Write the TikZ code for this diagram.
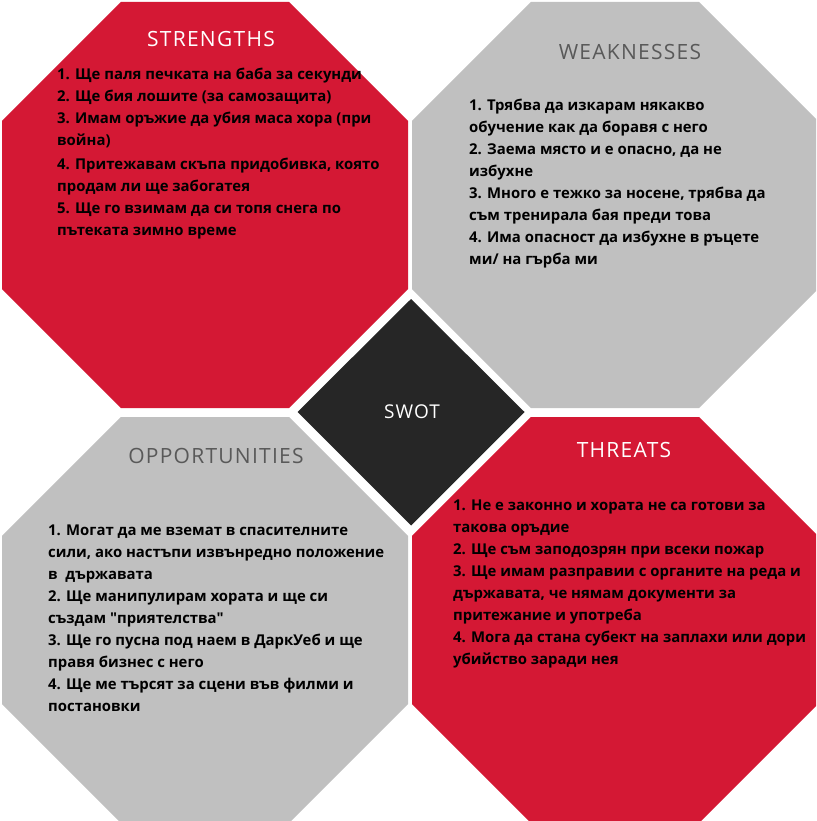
\documentclass[tikz,border=0pt]{standalone}
\usepackage{fontspec}
\setmainfont{Open Sans}
\newfontfamily\headfont[LetterSpace=6]{Open Sans}
\definecolor{swotred}{RGB}{212,24,52}
\definecolor{swotgray}{RGB}{192,192,192}
\definecolor{swotdark}{RGB}{38,38,38}
\definecolor{headgray}{RGB}{89,89,89}

% list of lines, first baseline on the node's base
\newcommand\rows[1]{\vtop{\baselineskip=22pt\halign{##\hfil\cr#1\crcr}}}

\tikzset{
  redpanel/.style={fill=swotred},
  graypanel/.style={fill=swotgray},
  heading/.style={anchor=base, inner sep=0pt, font=\headfont\fontsize{21}{21}\selectfont},
  body/.style={anchor=base west, inner sep=0pt, text=black, font=\bfseries\fontsize{14.9}{22}\selectfont},
}
% regular octagon, 406 wide, centred at #1
\newcommand\octagon[2]{%
  \fill[#2, shift={#1}] (-84.1,-203) -- (84.1,-203) -- (203,-84.1) -- (203,84.1)
    -- (84.1,203) -- (-84.1,203) -- (-203,84.1) -- (-203,-84.1) -- cycle;}

\begin{document}
\begin{tikzpicture}[x=1pt,y=-1pt]
  \useasboundingbox (0,0) rectangle (816,821);
  \fill[white] (0,0) rectangle (816,821);
  \clip (0,0) rectangle (816,821);

  % four panels
  \octagon{(205,205)}{redpanel}
  \octagon{(615,205)}{graypanel}
  \octagon{(205,620)}{graypanel}
  \octagon{(615,620)}{redpanel}

  % centre diamond
  \fill[swotdark] (411,299) -- (524.5,412) -- (411,525.5) -- (297.5,412) -- cycle;
  \node[heading, text=white, font=\headfont\fontsize{19}{19}\selectfont] (swot) at (412,418) {SWOT};

  % headings
  \node[heading, text=white] (strengths) at (211,47) {STRENGTHS};
  \node[heading, text=headgray] (weaknesses) at (630,60) {WEAKNESSES};
  \node[heading, text=headgray] (opportunities) at (216,463) {OPPORTUNITIES};
  \node[heading, text=white] (threats) at (624,457) {THREATS};

  % lists
  \node[body] (slist) at (57,80) {\rows{%
    1. Ще паля печката на баба за секунди\cr
    2. Ще бия лошите (за самозащита)\cr
    3. Имам оръжие да убия маса хора (при\cr
    война)\cr\noalign{\vskip2pt}
    4. Притежавам скъпа придобивка, която\cr
    продам ли ще забогатея\cr
    5. Ще го взимам да си топя снега по\cr
    пътеката зимно време}};

  \node[body] (wlist) at (469,111) {\rows{%
    1. Трябва да изкарам някакво\cr
    обучение как да боравя с него\cr
    2. Заема място и е опасно, да не\cr
    избухне\cr
    3. Много е тежко за носене, трябва да\cr
    съм тренирала бая преди това\cr
    4. Има опасност да избухне в ръцете\cr
    ми/ на гърба ми}};

  \node[body] (olist) at (48,535) {\rows{%
    1. Могат да ме вземат в спасителните\cr
    сили, ако настъпи извънредно положение\cr
    в\ \ държавата\cr
    2. Ще манипулирам хората и ще си\cr
    създам \textquotedbl приятелства\textquotedbl\cr
    3. Ще го пусна под наем в ДаркУеб и ще\cr
    правя бизнес с него\cr
    4. Ще ме търсят за сцени във филми и\cr
    постановки}};

  \node[body] (tlist) at (453,510) {\rows{%
    1. Не е законно и хората не са готови за\cr
    такова оръдие\cr
    2. Ще съм заподозрян при всеки пожар\cr
    3. Ще имам разправии с органите на реда и\cr
    държавата, че нямам документи за\cr
    притежание и употреба\cr
    4. Мога да стана субект на заплахи или дори\cr
    убийство заради нея}};
\end{tikzpicture}
\end{document}
